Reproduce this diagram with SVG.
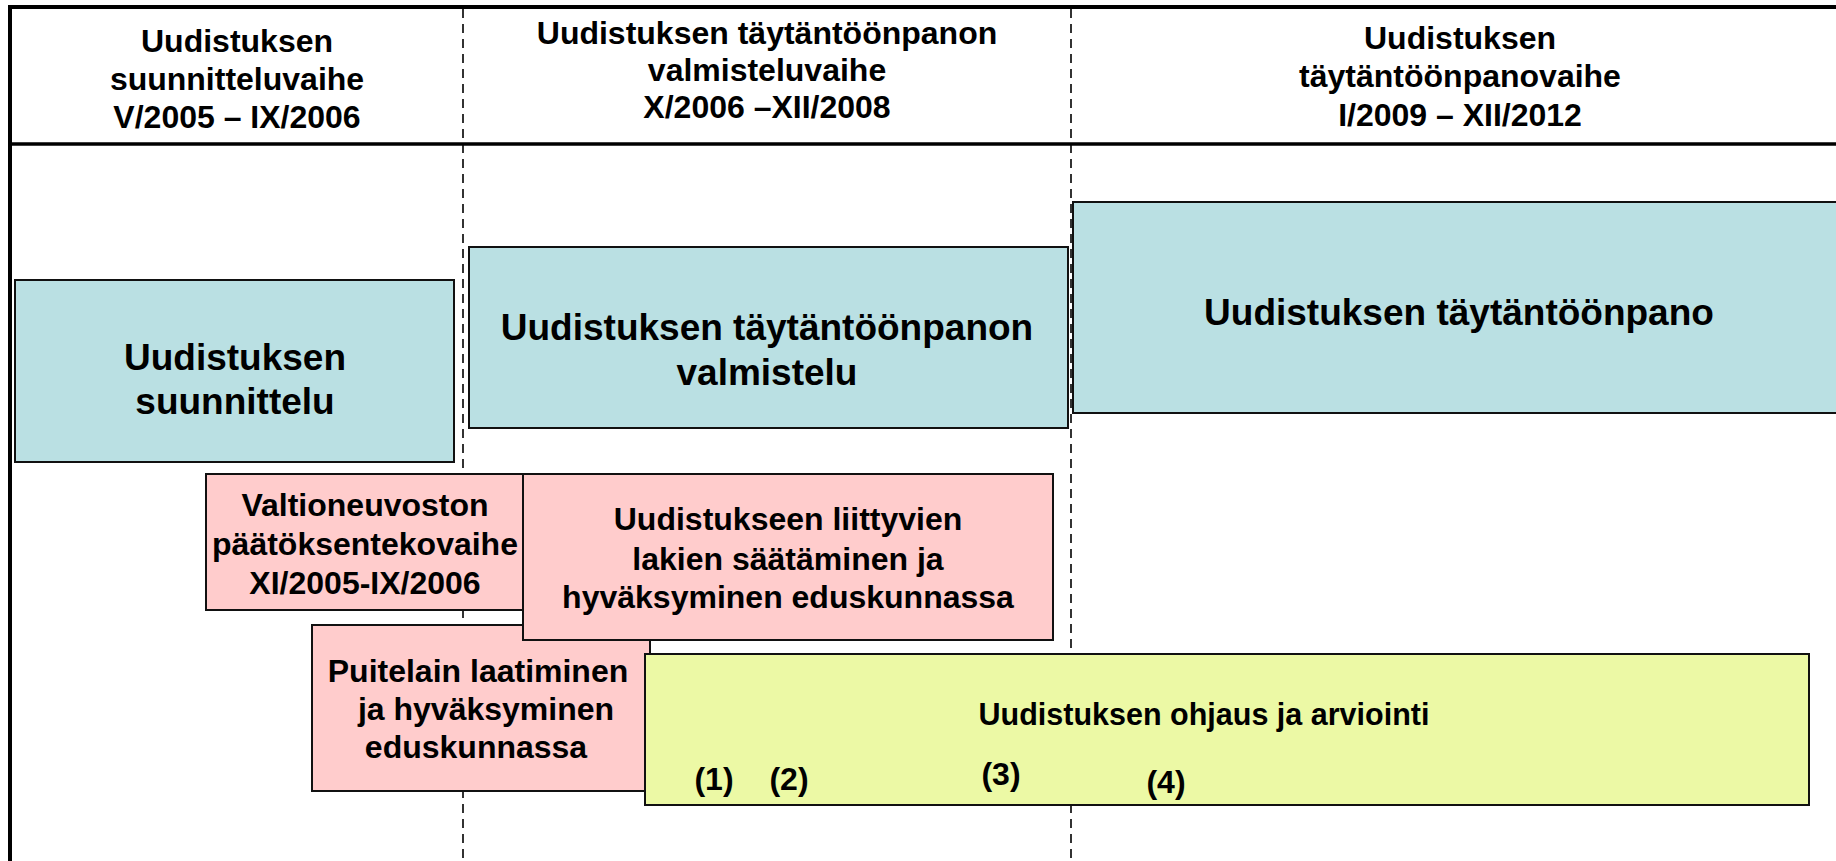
<svg xmlns="http://www.w3.org/2000/svg" width="1836" height="861" viewBox="0 0 1836 861">
<style>
text{font-family:"Liberation Sans",Arial,sans-serif;font-weight:bold;fill:#000;text-anchor:middle}
.hd{font-size:32px}
.sm{font-size:32px}
.md{font-size:30.5px}
.lg{font-size:37px}
.teal{fill:#BAE0E3;stroke:#111;stroke-width:2}
.pink{fill:#FFCCCC;stroke:#111;stroke-width:2}
.yel{fill:#ECF9A5;stroke:#111;stroke-width:2}
.dash{stroke:#000;stroke-width:1.6;stroke-dasharray:9 6;fill:none}
</style>
<rect x="0" y="0" width="1836" height="861" fill="#fff"/>
<g id="frame">
<rect x="10" y="7" width="1900" height="1000" fill="none" stroke="#000" stroke-width="4"/>
<line x1="10" y1="144" x2="1836" y2="144" stroke="#000" stroke-width="3.5"/>
</g>
<g id="connectors">
<line class="dash" x1="463" y1="9" x2="463" y2="861"/>
<line class="dash" x1="1071" y1="9" x2="1071" y2="861"/>
</g>
<g id="header1">
<text class="hd"><tspan x="237" y="52">Uudistuksen</tspan><tspan x="237" y="90">suunnitteluvaihe</tspan><tspan x="237" y="128">V/2005 – IX/2006</tspan></text>
</g>
<g id="header2">
<text class="hd"><tspan x="767" y="44">Uudistuksen täytäntöönpanon</tspan><tspan x="767" y="81">valmisteluvaihe</tspan><tspan x="767" y="118">X/2006 –XII/2008</tspan></text>
</g>
<g id="header3">
<text class="hd"><tspan x="1460" y="49">Uudistuksen</tspan><tspan x="1460" y="87">täytäntöönpanovaihe</tspan><tspan x="1460" y="126">I/2009 – XII/2012</tspan></text>
</g>
<g id="suunnittelu">
<rect class="teal" x="15" y="280" width="439" height="182"/>
<text class="lg"><tspan x="235" y="370">Uudistuksen</tspan><tspan x="235" y="414">suunnittelu</tspan></text>
</g>
<g id="valmistelu">
<rect class="teal" x="469" y="247" width="599" height="181"/>
<text class="lg"><tspan x="767" y="340">Uudistuksen täytäntöönpanon</tspan><tspan x="767" y="385">valmistelu</tspan></text>
</g>
<g id="taytantoonpano">
<rect class="teal" x="1073" y="202" width="800" height="211"/>
<text class="lg" x="1459" y="325">Uudistuksen täytäntöönpano</text>
</g>
<g id="valtioneuvosto">
<rect class="pink" x="206" y="474" width="322" height="136"/>
<text class="sm"><tspan x="365" y="516">Valtioneuvoston</tspan><tspan x="365" y="555">päätöksentekovaihe</tspan><tspan x="365" y="594">XI/2005-IX/2006</tspan></text>
</g>
<g id="puitelaki">
<rect class="pink" x="312" y="625" width="338" height="166"/>
<text class="sm"><tspan x="478" y="682">Puitelain laatiminen</tspan><tspan x="486" y="720">ja hyväksyminen</tspan><tspan x="476" y="758">eduskunnassa</tspan></text>
</g>
<g id="lait">
<rect class="pink" x="523" y="474" width="530" height="166"/>
<text class="sm"><tspan x="788" y="530">Uudistukseen liittyvien</tspan><tspan x="788" y="570">lakien säätäminen ja</tspan><tspan x="788" y="608">hyväksyminen eduskunnassa</tspan></text>
</g>
<g id="ohjaus">
<rect class="yel" x="645" y="654" width="1164" height="151"/>
<text class="md" x="1204" y="725">Uudistuksen ohjaus ja arviointi</text>
<text class="sm" x="714" y="790">(1)</text>
<text class="sm" x="789" y="790">(2)</text>
<text class="sm" x="1001" y="785">(3)</text>
<text class="sm" x="1166" y="793">(4)</text>
</g>
</svg>
